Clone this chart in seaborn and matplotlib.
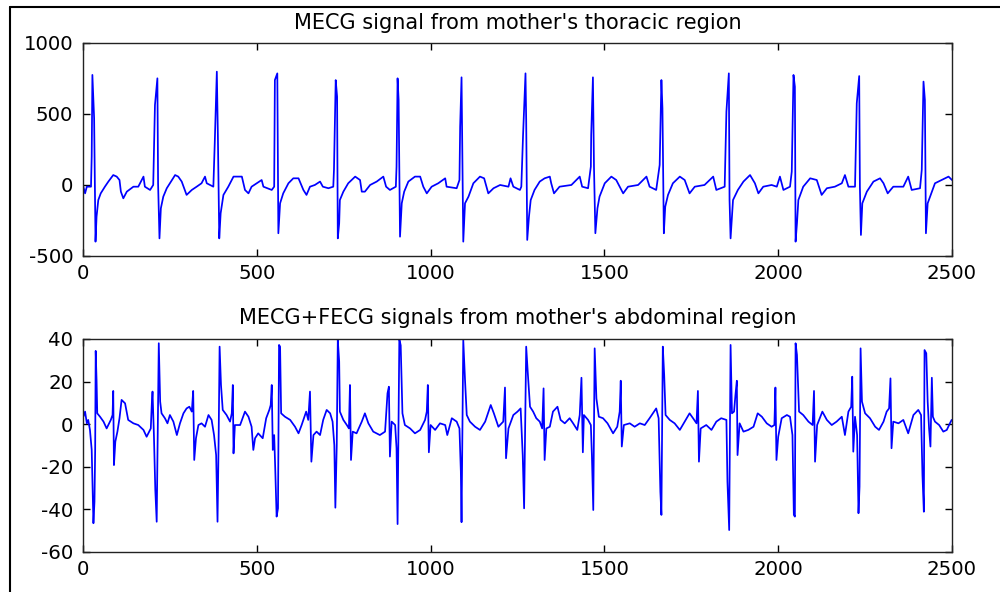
import matplotlib
matplotlib.use("Agg")
import matplotlib.pyplot as plt
from matplotlib.lines import Line2D
import seaborn as sns
import pandas as pd

# ---- data (sample index, amplitude) ----
title_top = "MECG signal from mother's thoracic region"
title_bottom = "MECG+FECG signals from mother's abdominal region"
x_ticks = [0, 500, 1000, 1500, 2000, 2500]
y_ticks_top = [-500, 0, 500, 1000]
y_ticks_bottom = [-60, -40, -20, 0, 20, 40]

mecg_pts = [
    (1, -12), (6, -59), (11, -12), (23, -12), (25, 200), (27, 775), (32, 470), (36, -399), (39, -223),
    (44, -106), (51, -59), (63, -12), (73, 24), (87, 70), (97, 59), (105, 35), (109, -47), (116, -94),
    (126, -47), (145, -12), (159, -12), (174, 59), (178, -12), (193, -35), (202, 0), (207, 563),
    (214, 751), (216, 12), (220, -376), (224, -164), (231, -82), (241, -23), (250, 12), (265, 70),
    (274, 59), (284, 24), (298, -70), (313, -35), (327, -12), (341, 12), (351, 59), (356, 12),
    (375, -12), (379, 293), (385, 798), (388, 352), (392, -376), (396, -199), (404, -70), (418, -12),
    (433, 59), (457, 59), (466, -35), (476, -59), (485, -12), (514, 35), (519, -12), (543, -35),
    (550, -12), (552, 739), (559, 786), (562, -340), (567, -129), (576, -59), (591, 12), (605, 47),
    (620, 47), (634, -35), (643, -70), (653, -12), (667, 0), (682, 24), (690, -12), (706, -23),
    (720, -12), (722, 106), (727, 739), (731, 622), (733, -376), (737, -270), (739, -106), (749, -47),
    (763, 12), (783, 59), (797, 35), (802, -47), (811, -47), (826, 0), (845, 24), (864, 59),
    (872, -12), (883, -35), (900, -12), (902, 129), (905, 751), (908, 599), (912, -364), (917, -129),
    (924, -47), (936, 24), (955, 59), (970, 59), (979, -12), (989, -59), (1003, -12), (1022, 12),
    (1042, 47), (1046, -12), (1075, -23), (1083, 35), (1085, 411), (1089, 758), (1092, 35),
    (1094, -399), (1099, -129), (1109, -82), (1123, 12), (1142, 59), (1154, 47), (1166, -59),
    (1181, -23), (1200, 0), (1224, -12), (1230, 47), (1238, -12), (1257, -35), (1261, -12),
    (1266, 352), (1273, 786), (1275, 458), (1278, -387), (1283, -223), (1288, -106), (1299, -35),
    (1314, 24), (1328, 47), (1343, 59), (1347, 12), (1355, -59), (1371, -12), (1405, 0), (1429, 59),
    (1436, -12), (1453, -23), (1461, 129), (1462, 352), (1467, 758), (1470, 129), (1474, -340),
    (1480, -164), (1486, -82), (1501, 12), (1520, 59), (1534, 35), (1544, -12), (1554, -59),
    (1568, -12), (1597, 0), (1621, 59), (1630, -12), (1649, -35), (1659, 141), (1664, 739),
    (1667, 540), (1671, -340), (1675, -153), (1683, -70), (1697, 12), (1717, 59), (1731, 35),
    (1745, -59), (1760, -12), (1788, 0), (1813, 59), (1822, -35), (1846, -12), (1851, 516),
    (1858, 786), (1860, -106), (1863, -376), (1870, -106), (1884, -35), (1900, 24), (1919, 70),
    (1933, 12), (1943, -59), (1957, -12), (1981, 0), (1996, -12), (2005, 59), (2015, -35),
    (2034, -12), (2039, 94), (2044, 775), (2048, 692), (2050, -399), (2054, -270), (2058, -106),
    (2072, -12), (2092, 47), (2111, 35), (2125, -70), (2140, -23), (2163, -12), (2183, 12),
    (2192, 70), (2202, -12), (2221, -12), (2226, 575), (2233, 767), (2235, -12), (2238, -352),
    (2242, -129), (2255, -47), (2274, 24), (2293, 47), (2303, 12), (2315, -59), (2331, -12),
    (2360, -12), (2374, 59), (2384, -35), (2408, -23), (2413, 106), (2418, 728), (2422, 599),
    (2425, -340), (2430, -129), (2437, -82), (2451, 12), (2470, 35), (2490, 59), (2500, 35),
]

abd_pts = [
    (1, 3.5), (6, 5.9), (11, 0.4), (15, 2), (20, -2.7), (25, -12), (30, -46.5), (33, -36.4), (35, -12),
    (36.5, 34.4), (39, 20.8), (41, 5.1), (49, 3.5), (59, 1.2), (68, -2), (80, 2), (85, 4.3), (87, 15.6),
    (89, -19.2), (93, -8.2), (99, -3.5), (105, 2.8), (111, 11.4), (121, 9.8), (130, 2), (145, 0.4),
    (159, -0.4), (174, -2.7), (183, -5.9), (195, -2), (198, 9.8), (200, 15.3), (204, -5.1),
    (208, -30.9), (212, -45.8), (218, 38), (222, 10.6), (226, 5.1), (236, 2.7), (243, 0.4), (250, 4.3),
    (260, 1.2), (270, -5.1), (279, 0.4), (289, 5.1), (298, 7.4), (306, 8.2), (313, 5.9), (317, 15.6),
    (320, -16.8), (325, -6.6), (332, -0.4), (341, 0.4), (351, -1.2), (361, 4.3), (370, 2), (377, -5.1),
    (383, -14.5), (387, -45.8), (390, -9.8), (393, 36.4), (397, 18.4), (402, 6.7), (413, 4.3),
    (423, 1.2), (428, 5.1), (431, 18.4), (433, -13.7), (437, -0.4), (452, -0.4), (466, 5.9),
    (476, 3.5), (485, -1.2), (490, -12.1), (495, -6.6), (504, -4.3), (517, -6.6), (527, 2.8),
    (536, 6.7), (540, 9), (543, 18.4), (546, -12.1), (550, -5.1), (553, -20.7), (557, -43.4),
    (561, -39.5), (564, 37.2), (567, 36.4), (570, 5.1), (581, 3.5), (596, 2), (610, -1.2), (620, -4.3),
    (629, -0.4), (642, 5.9), (648, 2), (653, 15.3), (657, -17.6), (663, -5.1), (672, -3.5),
    (682, -5.1), (691, 2), (701, 6.7), (711, 5.1), (718, 1.2), (723, -9.8), (726, -39.2), (730, -9.8),
    (733, 39.5), (737, 29.4), (739, 5.9), (749, 2), (759, -0.4), (765, -2), (768, 18.4), (771, -16.8),
    (776, -3.5), (787, -4.3), (802, 1.2), (811, 5.1), (821, 0.4), (835, -3.5), (854, -5.1),
    (869, -3.5), (876, 14.5), (880, 17.6), (883, -15.2), (888, 1.2), (898, -0.4), (902, -11.3),
    (905, -46.9), (910, 40), (914, 37), (919, 5.1), (926, -0.4), (941, -2), (955, -4.3), (970, -2.7),
    (984, 2), (989, 5.9), (992, 18.4), (995, -13.2), (1000, -0.4), (1013, -2.7), (1027, 0.4),
    (1042, -0.4), (1048, -5.1), (1061, 2.8), (1075, 1.2), (1083, -2), (1087, -22.3), (1089, -46),
    (1094, 39.5), (1099, 20.8), (1104, 4.3), (1113, 1.2), (1128, -1.2), (1142, -2.7), (1157, 1.2),
    (1173, 9), (1182, 5.1), (1195, -1.2), (1209, 1.2), (1214, 17.2), (1217, -16), (1224, -2),
    (1238, 4.3), (1250, 5.9), (1259, 7.4), (1265, -14.5), (1269, -39.5), (1275, 36.4), (1280, 23.1),
    (1286, 8.2), (1295, 5.9), (1304, 2.8), (1314, 1.2), (1321, -2), (1325, 16.8), (1328, -16.8),
    (1333, -2), (1343, -1.2), (1352, 5.9), (1365, 8.2), (1374, 2), (1386, 0.4), (1400, 2.8),
    (1410, 0.4), (1422, -2.7), (1429, 4.3), (1434, 21.8), (1438, -13.2), (1441, 4.3), (1453, 2),
    (1461, -0.4), (1464, -14.5), (1468, -40.3), (1472, 35.6), (1477, 12.1), (1484, 3.5), (1496, 2.8),
    (1509, 0.4), (1525, -4.3), (1537, -1.2), (1544, 5.9), (1547, 20.4), (1550, -10.5), (1556, -0.4),
    (1573, 0.4), (1587, -1.2), (1602, 0.4), (1616, -0.4), (1630, 2.8), (1643, 5.9), (1649, 7.4),
    (1656, 2.8), (1661, -31.7), (1664, -42.6), (1668, 36.4), (1672, 23.1), (1676, 4.3), (1688, 2),
    (1702, 0.4), (1717, -2.7), (1731, 1.2), (1745, 5.1), (1755, 2.8), (1765, 0.4), (1769, 15.6),
    (1772, -17.6), (1777, -2), (1793, -0.4), (1808, -2.7), (1822, 1.2), (1836, 2.8), (1851, 2),
    (1854, -27), (1859, -49.7), (1863, 37.2), (1867, 5.1), (1873, 5.9), (1877, 13.7), (1881, 20.4),
    (1883, -14.5), (1889, 0.4), (1900, -3.5), (1914, -2.7), (1929, -1.2), (1941, 5.1), (1953, 3.5),
    (1967, 0.4), (1981, -1.2), (1989, -0.4), (1992, 17.2), (1995, -16.8), (2000, -5.9), (2010, 2.8),
    (2025, 4.3), (2034, 3.5), (2041, -5.1), (2045, -42.6), (2048, -43.4), (2050, 38), (2054, 32.5),
    (2060, 5.9), (2072, 4.3), (2087, 1.2), (2099, -0.4), (2103, 15.6), (2106, -17.6), (2112, -0.4),
    (2127, 5.9), (2140, 2), (2154, -0.4), (2168, 1.2), (2183, 3.5), (2192, -5.1), (2202, 5.9),
    (2210, 8.2), (2213, 22.3), (2216, -12.9), (2221, 3.5), (2227, -5.1), (2231, -41.8), (2234, -29.3),
    (2237, 35.6), (2241, 10.6), (2250, 5.1), (2264, 2.8), (2279, -1.2), (2290, -2.7), (2303, 1.2),
    (2312, 5.9), (2319, 7.4), (2323, 21.5), (2326, -11.3), (2331, 1.2), (2346, 0.4), (2360, 2),
    (2374, -4.3), (2389, 4.3), (2403, 6.7), (2411, 4.3), (2415, -23.9), (2419, -41.1), (2421, 34.8),
    (2426, 33.3), (2430, 10.6), (2434, -2), (2438, -10.5), (2442, 21.8), (2445, 3.5), (2451, 1.2),
    (2463, -0.4), (2475, -3.5), (2485, -2.7), (2494, 0.4), (2499, 2),
]

mecg_df = pd.DataFrame(mecg_pts, columns=["n", "amp"])
abd_df = pd.DataFrame(abd_pts, columns=["n", "amp"])

sns.set_style("white")
plt.rcParams["font.family"] = ["DejaVu Sans"]
plt.rcParams["axes.unicode_minus"] = False
FS = 14.2

fig = plt.figure(figsize=(10, 5.92), dpi=100)
ax1 = fig.add_axes([0.083, 0.5676, 0.869, 0.3598])
ax2 = fig.add_axes([0.083, 0.0676, 0.869, 0.3598])

panels = [
    (ax1, mecg_df, title_top, (-500, 1000), y_ticks_top, 10),
    (ax2, abd_df, title_bottom, (-60, 40), y_ticks_bottom, 11),
]
for ax, df, title, ylim, yticks, pad in panels:
    sns.lineplot(data=df, x="n", y="amp", ax=ax, color="#0000ff", linewidth=1.25,
                 estimator=None, sort=False)
    ax.set_xlim(0, 2500)
    ax.set_ylim(*ylim)
    ax.set_xticks(x_ticks)
    ax.set_yticks(yticks)
    ax.set_xlabel("")
    ax.set_ylabel("")
    ax.set_title(title, fontsize=FS + 0.8, pad=pad, color="black")
    ax.tick_params(direction="in", length=5, width=1, colors="black", labelsize=FS,
                   top=True, right=True, bottom=True, left=True)
    ax.tick_params(axis="x", pad=6)
    ax.tick_params(axis="y", pad=7)
    for s in ax.spines.values():
        s.set_visible(True)
        s.set_color("#222222")
        s.set_linewidth(1.0)

# window frame lines at left and top of the figure
fig.add_artist(Line2D([0.0095, 0.0095], [0, 1 - 6.5 / 592], transform=fig.transFigure,
                      color="black", linewidth=1.5))
fig.add_artist(Line2D([0.0095, 1.0], [1 - 6.5 / 592, 1 - 6.5 / 592], transform=fig.transFigure,
                      color="black", linewidth=1.5))

fig.savefig("out.png", dpi=100, facecolor="white")
